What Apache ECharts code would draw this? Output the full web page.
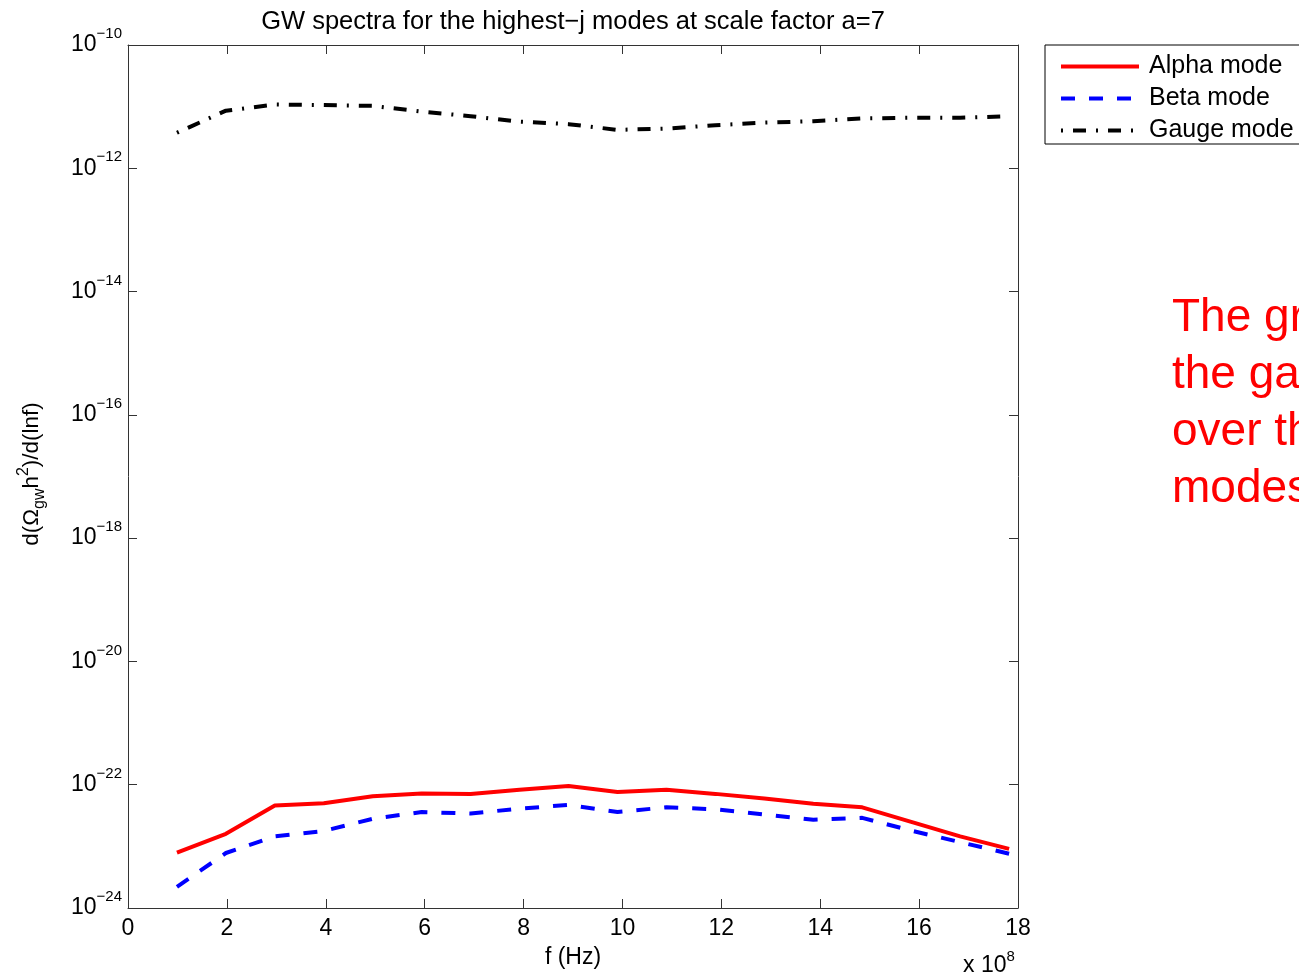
<!DOCTYPE html>
<html>
<head>
<meta charset="utf-8">
<script src="https://cdn.jsdelivr.net/npm/echarts@6/dist/echarts.min.js"></script>
<style>
html,body{margin:0;padding:0;background:#fff;}
#chart{width:1299px;height:976px;}
</style>
</head>
<body>
<div id="chart"></div>
<script>
// Frequencies (units of 1e8 Hz)
var freqs = [0.99, 1.98, 2.97, 3.96, 4.95, 5.94, 6.93, 7.92, 8.91, 9.9, 10.89, 11.88, 12.87, 13.86, 14.85, 15.84, 16.83, 17.82];
var alphaMode = [7.9e-24, 1.6e-23, 4.6e-23, 5.0e-23, 6.5e-23, 7.2e-23, 7.1e-23, 8.3e-23, 9.5e-23, 7.6e-23, 8.3e-23, 7.1e-23, 6.0e-23, 4.9e-23, 4.3e-23, 2.5e-23, 1.45e-23, 9.1e-24];
var betaMode = [2.2e-24, 7.8e-24, 1.45e-23, 1.78e-23, 2.8e-23, 3.6e-23, 3.4e-23, 4.1e-23, 4.7e-23, 3.6e-23, 4.3e-23, 4.0e-23, 3.3e-23, 2.7e-23, 2.9e-23, 1.8e-23, 1.17e-23, 7.6e-24];
var gaugeMode = [3.77e-12, 8.6e-12, 1.08e-11, 1.06e-11, 1.03e-11, 8.3e-12, 7.0e-12, 5.7e-12, 5.2e-12, 4.2e-12, 4.4e-12, 5.0e-12, 5.5e-12, 5.8e-12, 6.45e-12, 6.6e-12, 6.6e-12, 7.0e-12];
var xTicks = [0, 2, 4, 6, 8, 10, 12, 14, 16, 18];
var yTicks = [1e-24, 1e-22, 1e-20, 1e-18, 1e-16, 1e-14, 1e-12, 1e-10];
var yMin = 1e-24, yMax = 1e-10;
var seriesNames = ['Alpha mode', 'Beta mode', 'Gauge mode'];
var titleText = 'GW spectra for the highest\u2212j modes at scale factor a=7';
var noteLines = ['The gravitational waves from', 'the gauge modes dominate', 'over those from the other', 'modes'];

function pairs(xs, ys) { return xs.map(function (x, i) { return [x, ys[i]]; }); }

var chart = echarts.init(document.getElementById('chart'), null, {renderer: 'canvas'});
var FONT = 'Liberation Sans, Arial, sans-serif';
var axisCol = '#333';

var supRich = {
  b: {fontSize: 23, lineHeight: 37, color: '#000', fontFamily: FONT},
  s: {fontSize: 15, lineHeight: 15, verticalAlign: 'top', color: '#000', fontFamily: FONT}
};

var option = {
  backgroundColor: '#fff',
  animation: false,
  title: {
    text: titleText,
    left: 568, top: 4, textAlign: 'center',
    textStyle: {fontFamily: FONT, fontSize: 25.5, fontWeight: 'normal', color: '#000'}
  },
  grid: {left: 128, right: 281, top: 45, bottom: 68, outerBoundsMode: 'none'},
  legend: {
    data: seriesNames,
    orient: 'vertical',
    left: 1045, top: 45,
    itemWidth: 78, itemHeight: 20, itemGap: 7,
    padding: [9, 30, 1, 14],
    borderColor: '#000', borderWidth: 1,
    backgroundColor: '#fff',
    itemStyle: {opacity: 0},
    lineStyle: {width: 4},
    textStyle: {fontFamily: FONT, fontSize: 25, color: '#000', lineHeight: 24, padding: [0, 0, 0, 5]}
  },
  xAxis: [{
    type: 'value', min: 0, max: 18, interval: 2,
    position: 'bottom',
    name: 'f (Hz)', nameLocation: 'middle', nameGap: 38,
    nameTextStyle: {fontFamily: FONT, fontSize: 23, color: '#000'},
    axisLine: {show: true, onZero: false, lineStyle: {color: axisCol, width: 1}},
    axisTick: {show: true, inside: true, length: 9, lineStyle: {color: axisCol}},
    axisLabel: {margin: 9, fontFamily: FONT, fontSize: 23, color: '#000'},
    splitLine: {show: false}
  }, {
    type: 'value', min: 0, max: 18, interval: 2,
    position: 'top',
    axisLine: {show: true, onZero: false, lineStyle: {color: axisCol, width: 1}},
    axisTick: {show: true, inside: true, length: 9, lineStyle: {color: axisCol}},
    axisLabel: {show: false},
    splitLine: {show: false}
  }],
  yAxis: [{
    type: 'log', logBase: 10, min: yMin, max: yMax,
    position: 'left',
    axisLine: {show: true, onZero: false, lineStyle: {color: axisCol, width: 1}},
    axisTick: {show: true, inside: true, length: 9, lineStyle: {color: axisCol}, customValues: yTicks},
    minorTick: {show: false},
    axisLabel: {
      margin: 6,
      customValues: yTicks,
      formatter: function (v) {
        var e = Math.round(Math.log10(v));
        return '{b|10}{s|' + (e < 0 ? '\u2212' + (-e) : e) + '}';
      },
      rich: supRich
    },
    splitLine: {show: false}
  }, {
    type: 'log', logBase: 10, min: yMin, max: yMax,
    position: 'right',
    axisLine: {show: true, onZero: false, lineStyle: {color: axisCol, width: 1}},
    axisTick: {show: true, inside: true, length: 9, lineStyle: {color: axisCol}, customValues: yTicks},
    axisLabel: {show: false},
    splitLine: {show: false}
  }],
  series: [{
    name: seriesNames[0], type: 'line', data: pairs(freqs, alphaMode),
    symbol: 'none', color: '#ff0000',
    lineStyle: {color: '#ff0000', width: 4, type: 'solid'}
  }, {
    name: seriesNames[1], type: 'line', data: pairs(freqs, betaMode),
    symbol: 'none', color: '#0000ff',
    lineStyle: {color: '#0000ff', width: 4, type: [14, 14]}
  }, {
    name: seriesNames[2], type: 'line', data: pairs(freqs, gaugeMode),
    symbol: 'none', color: '#000000',
    lineStyle: {color: '#000000', width: 4, type: [2, 10, 13, 10]}
  }],
  graphic: [{
    type: 'text', x: 32, y: 474, rotation: Math.PI / 2,
    style: {
      text: '{b|d(\u03A9}{sub|gw}{b|h}{sup|2}{b|)/d(lnf)}',
      align: 'center', verticalAlign: 'middle',
      rich: {
        b: {fontSize: 22.5, lineHeight: 32, fontFamily: FONT, fill: '#000', color: '#000'},
        sub: {fontSize: 16, lineHeight: 16, verticalAlign: 'bottom', fontFamily: FONT, fill: '#000', color: '#000'},
        sup: {fontSize: 16, lineHeight: 16, verticalAlign: 'top', fontFamily: FONT, fill: '#000', color: '#000'}
      }
    }
  }, {
    type: 'text', x: 963, y: 966,
    style: {
      text: '{b|x 10}{s|8}',
      align: 'left', verticalAlign: 'middle',
      rich: {
        b: {fontSize: 23, lineHeight: 34, fontFamily: FONT, fill: '#000', color: '#000'},
        s: {fontSize: 15, lineHeight: 15, verticalAlign: 'top', fontFamily: FONT, fill: '#000', color: '#000'}
      }
    }
  }, {
    type: 'text', left: 1172, top: 290,
    style: {
      text: noteLines.join('\n'),
      fontSize: 46, lineHeight: 57, fontFamily: FONT, fill: '#ff0000'
    }
  }]
};
chart.setOption(option);
</script>
</body>
</html>
